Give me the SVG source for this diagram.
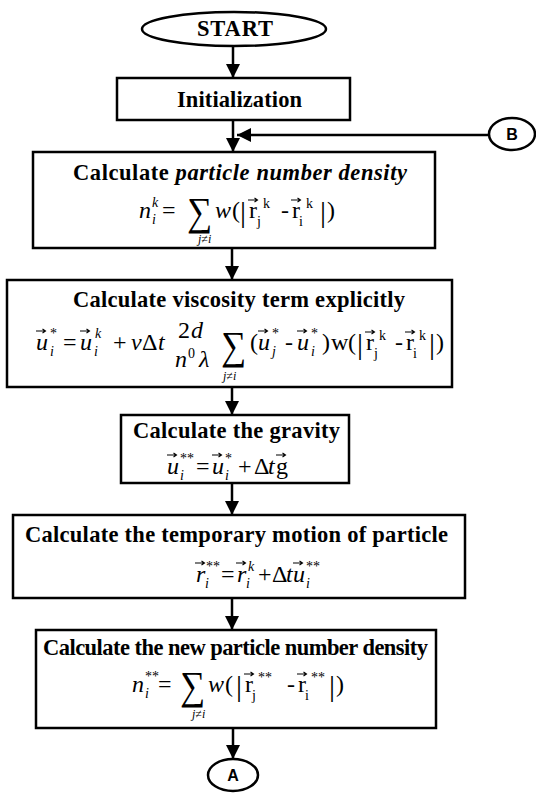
<svg xmlns="http://www.w3.org/2000/svg" xmlns:xlink="http://www.w3.org/1999/xlink" width="536" height="794" viewBox="0 0 536 794">
<style>
.box{fill:#fff;stroke:#000;stroke-width:2.5}
.term{fill:#fff;stroke:#000;stroke-width:2.5}
.con{fill:none;stroke:#000;stroke-width:2.5}
.t{font-family:"Liberation Serif",serif;font-weight:bold;font-size:22.5px;fill:#000}
.lbl{font-family:"Liberation Sans",Arial,sans-serif;font-weight:bold;font-size:16px;fill:#000}
.v{font-family:"Liberation Serif",serif;font-style:italic;font-size:24px;fill:#000}
.u{font-family:"Liberation Serif",serif;font-size:24px;fill:#000}
.bar{font-family:"Liberation Serif",serif;font-size:30px;fill:#000}
.s{font-family:"Liberation Serif",serif;font-style:italic;font-size:14px;fill:#000}
.su{font-family:"Liberation Serif",serif;font-size:14px;fill:#000}
.sig{font-family:"Liberation Serif","DejaVu Serif",serif;font-size:40px;fill:#000}
.lim{font-family:"Liberation Serif",serif;font-style:italic;font-size:12px;fill:#000}
.vec{fill:none;stroke:#000;stroke-width:1.1}
</style>
<defs>
<marker id="ah" markerUnits="userSpaceOnUse" markerWidth="14" markerHeight="14" refX="14" refY="7" orient="auto">
<path d="M0,0 L14,7 L0,14 z" fill="#000"/>
</marker>
<g id="va"><path class="vec" d="M0,3 H9 M6.5,1 L9.5,3 L6.5,5"/></g>
</defs>

<g id="connectors">
<line class="con" x1="233" y1="47" x2="233" y2="78" marker-end="url(#ah)"/>
<line class="con" x1="233" y1="120" x2="233" y2="152" marker-end="url(#ah)"/>
<line class="con" x1="488" y1="135" x2="237" y2="135" marker-end="url(#ah)"/>
<line class="con" x1="232" y1="248" x2="232" y2="280" marker-end="url(#ah)"/>
<line class="con" x1="232" y1="387" x2="232" y2="415" marker-end="url(#ah)"/>
<line class="con" x1="232" y1="483" x2="232" y2="515" marker-end="url(#ah)"/>
<line class="con" x1="232" y1="598" x2="232" y2="630" marker-end="url(#ah)"/>
<line class="con" x1="233" y1="728" x2="233" y2="759" marker-end="url(#ah)"/>
</g>

<g id="start">
<ellipse class="term" cx="234" cy="29" rx="92" ry="17"/>
<text class="t" x="197" y="36" textLength="76" font-size="21">START</text>
</g>

<g id="init">
<rect class="box" x="117" y="78" width="233" height="42"/>
<text class="t" x="177" y="107" textLength="125" font-size="21">Initialization</text>
</g>

<g id="connB">
<ellipse class="term" cx="512" cy="134" rx="23" ry="16"/>
<text class="lbl" x="512" y="140" text-anchor="middle">B</text>
</g>

<g id="density">
<rect class="box" x="33" y="152" width="402" height="96"/>
<text class="t" x="73" y="180" textLength="334">Calculate <tspan font-style="italic">particle number density</tspan></text>
<text class="v" x="139" y="218">n</text>
<text class="s" x="152" y="207">k</text>
<text class="s" x="152" y="224">i</text>
<text class="u" x="162" y="218">=</text>
<text class="sig" transform="translate(187,225) scale(0.88,1)">∑</text>
<text class="lim" x="198" y="243">j≠i</text>
<text class="v" x="215" y="218">w</text>
<text class="u" x="232" y="218">(</text>
<text class="bar" x="240" y="222">|</text>
<text class="u" x="249" y="218">r</text>
<use href="#va" x="248" y="197"/>
<text class="su" x="263" y="208">k</text>
<text class="su" x="257" y="226">j</text>
<text class="u" x="281" y="218">-</text>
<text class="u" x="292" y="218">r</text>
<use href="#va" x="291" y="197"/>
<text class="su" x="306" y="208">k</text>
<text class="su" x="299" y="226">i</text>
<text class="bar" x="320" y="222">|</text>
<text class="u" x="327" y="218">)</text>
</g>

<g id="viscosity">
<rect class="box" x="7" y="280" width="445" height="107"/>
<text class="t" x="73" y="307" textLength="332">Calculate viscosity term explicitly</text>
<text class="v" x="36" y="350">u</text>
<use href="#va" x="36" y="328"/>
<text class="su" x="50" y="338">*</text>
<text class="s" x="50" y="356">i</text>
<text class="u" x="63" y="350">=</text>
<text class="v" x="80" y="350">u</text>
<use href="#va" x="80" y="328"/>
<text class="s" x="95" y="338">k</text>
<text class="s" x="94" y="356">i</text>
<text class="u" x="113" y="350">+</text>
<text class="v" x="131" y="350">ν</text>
<text class="u" x="142" y="350">Δ</text>
<text class="v" x="158" y="350">t</text>
<text class="u" x="178" y="338">2</text>
<text class="v" x="191" y="338">d</text>
<text class="v" x="175" y="367">n</text>
<text class="su" x="188" y="358">0</text>
<text class="v" x="199" y="367">λ</text>
<text class="sig" transform="translate(221,359) scale(0.88,1)">∑</text>
<text class="lim" x="223" y="380">j≠i</text>
<text class="u" x="250" y="350">(</text>
<text class="v" x="258" y="350">u</text>
<use href="#va" x="258" y="328"/>
<text class="su" x="272" y="338">*</text>
<text class="s" x="272" y="356">j</text>
<text class="u" x="285" y="350">-</text>
<text class="v" x="297" y="350">u</text>
<use href="#va" x="297" y="328"/>
<text class="su" x="311" y="338">*</text>
<text class="s" x="311" y="356">i</text>
<text class="u" x="322" y="350">)</text>
<text class="u" x="331" y="350">w</text>
<text class="u" x="348" y="350">(</text>
<text class="bar" x="357" y="354">|</text>
<text class="u" x="366" y="350">r</text>
<use href="#va" x="365" y="329"/>
<text class="su" x="379" y="340">k</text>
<text class="su" x="374" y="358">j</text>
<text class="u" x="395" y="350">-</text>
<text class="u" x="406" y="350">r</text>
<use href="#va" x="405" y="329"/>
<text class="su" x="419" y="340">k</text>
<text class="su" x="413" y="358">i</text>
<text class="bar" x="429" y="354">|</text>
<text class="u" x="436" y="350">)</text>
</g>

<g id="gravity">
<rect class="box" x="121" y="415" width="228" height="68"/>
<text class="t" x="133" y="438" textLength="207">Calculate the gravity</text>
<text class="v" x="167" y="474">u</text>
<use href="#va" x="167" y="452"/>
<text class="su" x="180" y="463">**</text>
<text class="s" x="180" y="480">i</text>
<text class="u" x="196" y="474">=</text>
<text class="v" x="212" y="474">u</text>
<use href="#va" x="212" y="452"/>
<text class="su" x="225" y="463">*</text>
<text class="s" x="225" y="480">i</text>
<text class="u" x="238" y="474">+</text>
<text class="u" x="254" y="474">Δ</text>
<text class="v" x="268" y="474">t</text>
<text class="u" x="276" y="474">g</text>
<use href="#va" x="276" y="452"/>
</g>

<g id="motion">
<rect class="box" x="13" y="515" width="452" height="83"/>
<text class="t" x="25" y="542" textLength="423">Calculate the temporary motion of particle</text>
<text class="v" x="196" y="582">r</text>
<use href="#va" x="195" y="560"/>
<text class="su" x="206" y="571">**</text>
<text class="s" x="205" y="588">i</text>
<text class="u" x="221" y="582">=</text>
<text class="v" x="237" y="582">r</text>
<use href="#va" x="236" y="560"/>
<text class="s" x="248" y="571">k</text>
<text class="s" x="246" y="588">i</text>
<text class="u" x="258" y="582">+</text>
<text class="u" x="272" y="582">Δ</text>
<text class="v" x="286" y="582">t</text>
<text class="v" x="293" y="582">u</text>
<use href="#va" x="293" y="560"/>
<text class="su" x="306" y="571">**</text>
<text class="s" x="306" y="588">i</text>
</g>

<g id="newdensity">
<rect class="box" x="36" y="630" width="400" height="98"/>
<text class="t" x="43" y="655" textLength="385">Calculate the new particle number density</text>
<text class="v" x="132" y="692">n</text>
<text class="su" x="145" y="681">**</text>
<text class="s" x="145" y="698">i</text>
<text class="u" x="158" y="692">=</text>
<text class="sig" transform="translate(180,699) scale(0.88,1)">∑</text>
<text class="lim" x="192" y="718">j≠i</text>
<text class="v" x="208" y="692">w</text>
<text class="u" x="225" y="692">(</text>
<text class="bar" x="236" y="696">|</text>
<text class="u" x="245" y="692">r</text>
<use href="#va" x="244" y="671"/>
<text class="su" x="258" y="682">**</text>
<text class="su" x="252" y="700">j</text>
<text class="u" x="287" y="692">-</text>
<text class="u" x="298" y="692">r</text>
<use href="#va" x="297" y="671"/>
<text class="su" x="311" y="682">**</text>
<text class="su" x="305" y="700">i</text>
<text class="bar" x="329" y="696">|</text>
<text class="u" x="336" y="692">)</text>
</g>

<g id="connA">
<ellipse class="term" cx="233" cy="775" rx="25" ry="16"/>
<text class="lbl" x="233" y="781" text-anchor="middle">A</text>
</g>
</svg>
